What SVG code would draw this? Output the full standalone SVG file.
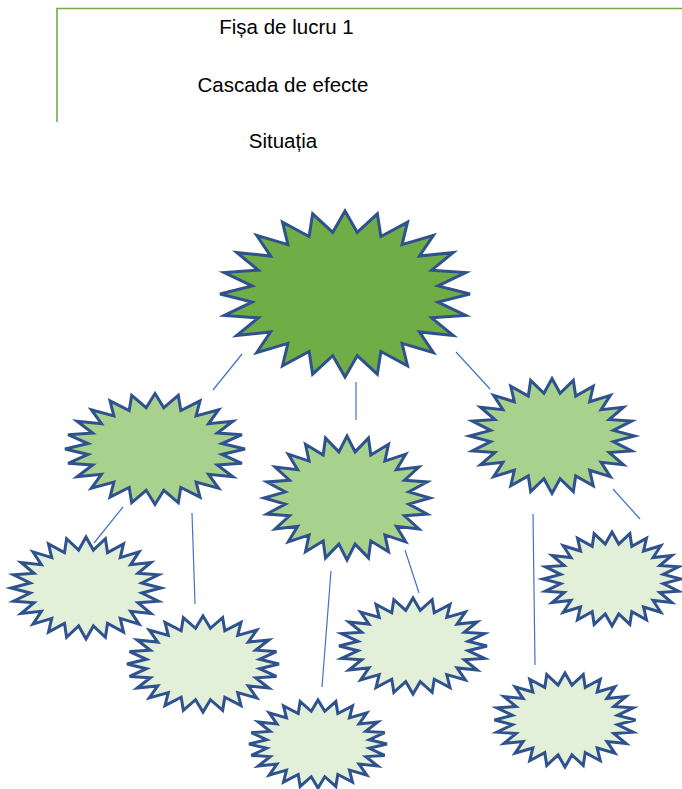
<svg xmlns="http://www.w3.org/2000/svg" xmlns:xlink="http://www.w3.org/1999/xlink" width="682" height="789" viewBox="0 0 682 789">
<style>
.t{font-family:"Liberation Sans",Arial,sans-serif;font-size:20.5px;fill:#000;text-anchor:middle}
.hdr{stroke:#70AD47;stroke-width:1.6;fill:none}
.star{stroke:#2F528F;stroke-width:3;stroke-linejoin:miter}
.s1{fill:#70AD47}
.s2{fill:#A9D18E}
.s3{fill:#E2F0D9}
.c{stroke:#4472C4;stroke-width:1.2;fill:none}
</style>
<defs>
<path id="star24" vector-effect="non-scaling-stroke" d="M0,-100 L9.79,-74.36 L25.88,-96.59 L28.70,-69.29 L50,-86.60 L45.66,-59.50 L70.71,-70.71 L59.50,-45.66 L86.60,-50 L69.29,-28.70 L96.59,-25.88 L74.36,-9.79 L100,0 L74.36,9.79 L96.59,25.88 L69.29,28.70 L86.60,50 L59.50,45.66 L70.71,70.71 L45.66,59.50 L50,86.60 L28.70,69.29 L25.88,96.59 L9.79,74.36 L0,100 L-9.79,74.36 L-25.88,96.59 L-28.70,69.29 L-50,86.60 L-45.66,59.50 L-70.71,70.71 L-59.50,45.66 L-86.60,50 L-69.29,28.70 L-96.59,25.88 L-74.36,9.79 L-100,0 L-74.36,-9.79 L-96.59,-25.88 L-69.29,-28.70 L-86.60,-50 L-59.50,-45.66 L-70.71,-70.71 L-45.66,-59.50 L-50,-86.60 L-28.70,-69.29 L-25.88,-96.59 L-9.79,-74.36 Z"/>
</defs>
<g id="header">
<path class="hdr" d="M57,122 L57,8.5 L682,8.5"/>
<text class="t" x="286.5" y="34">Fișa de lucru 1</text>
<text class="t" x="283" y="92">Cascada de efecte</text>
<text class="t" x="283" y="148">Situația</text>
</g>
<g id="connectors">
<line class="c" x1="242" y1="354" x2="213" y2="390"/>
<line class="c" x1="356" y1="382" x2="356" y2="420"/>
<line class="c" x1="456" y1="352" x2="490" y2="389"/>
<line class="c" x1="123" y1="507" x2="94" y2="543"/>
<line class="c" x1="192" y1="513" x2="195" y2="604"/>
<line class="c" x1="331" y1="571" x2="322" y2="687"/>
<line class="c" x1="405" y1="550" x2="419" y2="593"/>
<line class="c" x1="533" y1="514" x2="535" y2="665"/>
<line class="c" x1="613" y1="489" x2="640" y2="519"/>
</g>
<g id="n1"><use xlink:href="#star24" class="star s1" transform="translate(345,294) scale(1.25,0.83)"/></g>
<g id="n2"><use xlink:href="#star24" class="star s2" transform="translate(155,449) scale(0.90,0.555)"/></g>
<g id="n3"><use xlink:href="#star24" class="star s2" transform="translate(347,498) scale(0.83,0.62)"/></g>
<g id="n4"><use xlink:href="#star24" class="star s2" transform="translate(552,436) scale(0.825,0.575)"/></g>
<g id="n5"><use xlink:href="#star24" class="star s3" transform="translate(86,588) scale(0.75,0.51)"/></g>
<g id="n6"><use xlink:href="#star24" class="star s3" transform="translate(203,664) scale(0.76,0.48)"/></g>
<g id="n7"><use xlink:href="#star24" class="star s3" transform="translate(318,744) scale(0.69,0.44)"/></g>
<g id="n8"><use xlink:href="#star24" class="star s3" transform="translate(413,646) scale(0.74,0.48)"/></g>
<g id="n9"><use xlink:href="#star24" class="star s3" transform="translate(612,579) scale(0.69,0.47)"/></g>
<g id="n10"><use xlink:href="#star24" class="star s3" transform="translate(565,720) scale(0.705,0.47)"/></g>
</svg>
